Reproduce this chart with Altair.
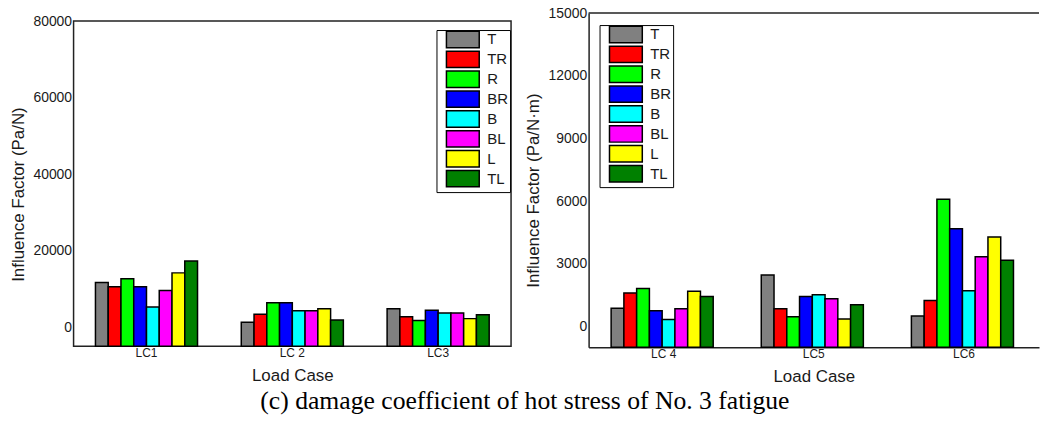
import altair as alt
import pandas as pd

positions = ["T", "TR", "R", "BR", "B", "BL", "L", "TL"]
colors = ["#808080", "#ff0000", "#00ff00", "#0000ff", "#00ffff", "#ff00ff", "#ffff00", "#008000"]

left_cases = ["LC1", "LC 2", "LC3"]
right_cases = ["LC 4", "LC5", "LC6"]

lc1 = [11650, 10530, 12610, 10530, 5230, 9570, 14170, 17290]
lc2 = [1250, 3330, 6370, 6370, 4290, 4290, 4810, 1850]
lc3 = [4810, 2730, 1690, 4370, 3670, 3670, 2210, 3250]
lc4 = [870, 1600, 1810, 750, 330, 840, 1680, 1430]
lc5 = [2460, 840, 460, 1430, 1510, 1320, 350, 1030]
lc6 = [490, 1240, 6090, 4670, 1700, 3330, 4280, 3160]

left_ticks = [0, 20000, 40000, 60000, 80000]
right_ticks = [0, 3000, 6000, 9000, 12000, 15000]
left_domain = [-5000, 80000]
right_domain = [-1000, 15000]

left_ytitle = "Influence Factor (Pa/N)"
right_ytitle = "Influence Factor (Pa/N·m)"
xtitle = "Load Case"
caption = "(c) damage coefficient of hot stress of No. 3 fatigue"

FRAME = "#222222"
TXT = "#1a1a1a"


def make_df(cases, series):
    rows = []
    for c, vals in zip(cases, series):
        for p, v in zip(positions, vals):
            rows.append({"case": c, "pos": p, "value": v})
    return pd.DataFrame(rows)


def bars(df, cases, domain, ticks, ytitle, title_y, lx, ly, domain_lines):
    return alt.Chart(df).mark_bar(stroke="black", strokeWidth=1.5).encode(
        x=alt.X("case:N", sort=cases,
                scale=alt.Scale(paddingInner=0.3, paddingOuter=0.15),
                axis=alt.Axis(title=xtitle, labelAngle=0, ticks=False, domain=domain_lines,
                              domainColor=FRAME, domainWidth=1.5,
                              labelFontSize=12, titleFontSize=17, labelPadding=1,
                              titlePadding=10)),
        xOffset=alt.XOffset("pos:N", sort=positions,
                            scale=alt.Scale(paddingInner=0, paddingOuter=0)),
        y=alt.Y("value:Q",
                scale=alt.Scale(domain=domain, nice=False, zero=False),
                axis=alt.Axis(title=ytitle, values=ticks, format="d", grid=False, ticks=False,
                              domain=domain_lines, domainColor=FRAME, domainWidth=1.5,
                              labelFontSize=14, labelPadding=2, titleFontSize=17,
                              titlePadding=5, titleY=title_y)),
        y2=alt.datum(domain[0]),
        color=alt.Color("pos:N", sort=positions,
                        scale=alt.Scale(domain=positions, range=colors),
                        legend=alt.Legend(title=None, orient="none", legendX=lx, legendY=ly,
                                          symbolType="M-4,-2H4V2H-4Z", symbolSize=68,
                                          symbolStrokeColor="black", symbolStrokeWidth=1.5,
                                          symbolOpacity=1, symbolOffset=17,
                                          labelFontSize=15, labelFont="Liberation Sans",
                                          labelColor=TXT, labelOffset=17,
                                          rowPadding=-3, padding=2,
                                          strokeColor="black", fillColor="white")),
    )


df_left = make_df(left_cases, [lc1, lc2, lc3])
df_right = make_df(right_cases, [lc4, lc5, lc6])

left_plot = bars(df_left, left_cases, left_domain, left_ticks, left_ytitle, 174, 365, 17, False).properties(
    width=440, height=327,
)
spacer = alt.Chart(pd.DataFrame({"v": [0]})).mark_rule(opacity=0).encode(
    y=alt.value(0)
).properties(width=440, height=1, view=alt.ViewBackground(stroke="transparent"))
left = alt.vconcat(spacer, left_plot, spacing=-2)

right_bars = bars(df_right, right_cases, right_domain, right_ticks, right_ytitle, 178, 11, 12, True)
top_line = alt.Chart(pd.DataFrame({"top": [right_domain[1] * 1.0]})).mark_rule(
    color=FRAME, strokeWidth=1.5).encode(y=alt.Y("top:Q"))
right = alt.layer(right_bars, top_line).properties(
    width=453, height=336,
    view=alt.ViewBackground(stroke="transparent"),
)

chart = alt.hconcat(left, right, spacing=12).resolve_scale(
    color="independent", y="independent", x="independent"
).resolve_legend(color="independent").properties(
    padding={"left": 9, "top": 4, "right": 0, "bottom": 0},
    background="white",
    title=alt.TitleParams(caption, orient="bottom", anchor="middle", font="Liberation Serif",
                          fontSize=25.8, fontWeight="normal", color="black", offset=3),
).configure_view(stroke=FRAME, strokeWidth=1.5).configure_axis(
    labelFont="Liberation Sans", titleFont="Liberation Sans", titleFontWeight="normal",
    labelColor=TXT, titleColor=TXT,
)

chart.save("out.html", embed_options={"renderer": "svg", "actions": False})
